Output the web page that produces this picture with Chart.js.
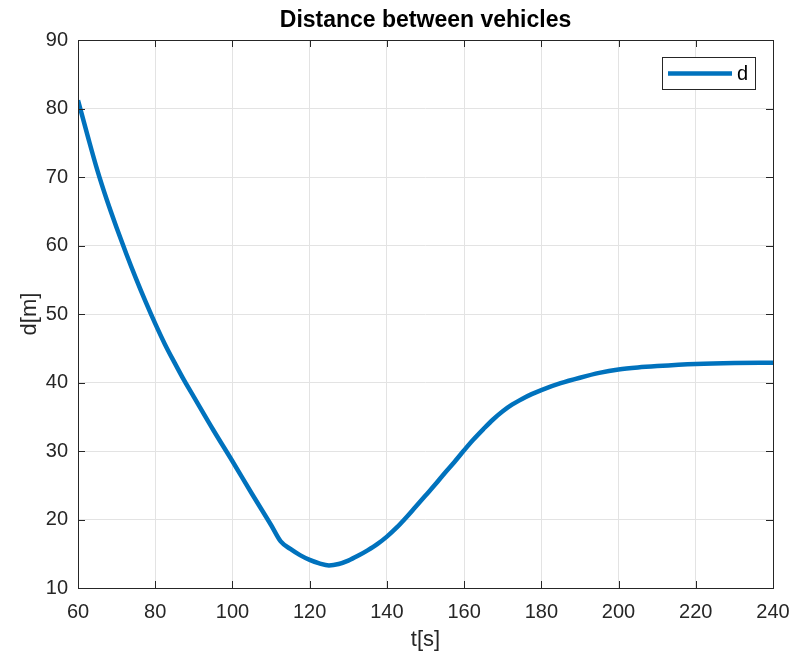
<!DOCTYPE html>
<html lang="en">
<head>
  <meta charset="UTF-8">
  <title>Distance between vehicles</title>
  <style>
    body {
      margin: 0;
      padding: 0;
      background-color: #fff;
    }
    #wrap {
      width: 791px;
      height: 659px;
    }
  </style>
  <script src="https://cdn.jsdelivr.net/npm/chart.js"></script>
</head>
<body>
  <div id="wrap">
    <canvas id="distanceChart" width="791" height="659"></canvas>
  </div>

  <script>
    // values
    const timeValues = [60, 62.5, 65, 67.5, 70, 72.5, 75, 77.5, 80, 82.5, 85, 87.5, 90, 95, 100, 105, 110, 112.5, 115, 117.5, 120, 122.5, 125, 127.5, 130, 132.5, 135, 137.5, 140, 142.5, 145, 147.5, 150, 152.5, 155, 157.5, 160, 162.3, 165, 167.5, 170, 172.5, 175, 177.5, 180, 185, 190, 195, 200, 205, 210, 220, 230, 240];
    const distanceValues = [81.2, 76.0, 71.0, 66.6, 62.6, 58.8, 55.2, 51.8, 48.6, 45.6, 42.9, 40.3, 37.9, 33.1, 28.5, 23.8, 19.2, 16.8, 15.7, 14.8, 14.1, 13.6, 13.3, 13.5, 14.0, 14.7, 15.5, 16.4, 17.5, 18.8, 20.3, 21.9, 23.5, 25.1, 26.8, 28.4, 30.1, 31.6, 33.2, 34.6, 35.8, 36.8, 37.6, 38.3, 38.9, 39.9, 40.7, 41.4, 41.9, 42.2, 42.4, 42.7, 42.85, 42.9];
    const xTicks = [60, 80, 100, 120, 140, 160, 180, 200, 220, 240];
    const yTicks = [10, 20, 30, 40, 50, 60, 70, 80, 90];
    const seriesLabel = 'd';
    const chartTitle = 'Distance between vehicles';
    const xLabel = 't[s]';
    const yLabel = 'd[m]';

    const lineColor = '#0072BD';
    const axisColor = '#262626';
    const fontFamily = '"Liberation Sans", Arial, Helvetica, sans-serif';

    const points = timeValues.map((t, i) => ({ x: t, y: distanceValues[i] }));

    // title, axis labels, box with inward ticks and the legend, MATLAB style
    const matlabDecor = {
      id: 'matlabDecor',
      afterDraw(chart) {
        const c = chart.ctx;
        const a = chart.chartArea;
        const xs = chart.scales.x;
        const ys = chart.scales.y;
        c.save();

        // box and inward ticks
        c.strokeStyle = axisColor;
        c.lineWidth = 1;
        c.strokeRect(Math.round(a.left) + 0.5, Math.round(a.top) + 0.5, Math.round(a.right - a.left), Math.round(a.bottom - a.top));
        c.beginPath();
        xTicks.forEach(v => {
          const px = Math.round(xs.getPixelForValue(v)) + 0.5;
          c.moveTo(px, a.bottom); c.lineTo(px, a.bottom - 7);
          c.moveTo(px, a.top); c.lineTo(px, a.top + 7);
        });
        yTicks.forEach(v => {
          const py = Math.round(ys.getPixelForValue(v)) + 0.5;
          c.moveTo(a.left, py); c.lineTo(a.left + 7, py);
          c.moveTo(a.right, py); c.lineTo(a.right - 7, py);
        });
        c.stroke();

        // title
        c.fillStyle = '#000';
        c.font = 'bold 23px ' + fontFamily;
        c.textAlign = 'center';
        c.textBaseline = 'middle';
        c.fillText(chartTitle, (a.left + a.right) / 2, 21);

        // axis labels
        c.fillStyle = axisColor;
        c.font = '22px ' + fontFamily;
        c.fillText(xLabel, (a.left + a.right) / 2, 640);
        c.save();
        c.translate(30, (a.top + a.bottom) / 2);
        c.rotate(-Math.PI / 2);
        c.fillText(yLabel, 0, 0);
        c.restore();

        // legend
        const bx = 662, by = 57, bw = 93, bh = 32;
        c.fillStyle = '#fff';
        c.fillRect(bx, by, bw, bh);
        c.strokeStyle = axisColor;
        c.strokeRect(bx + 0.5, by + 0.5, bw, bh);
        c.strokeStyle = lineColor;
        c.lineWidth = 4.5;
        c.beginPath();
        c.moveTo(668, by + bh / 2 + 0.5);
        c.lineTo(732, by + bh / 2 + 0.5);
        c.stroke();
        c.fillStyle = '#000';
        c.font = '20px ' + fontFamily;
        c.textAlign = 'left';
        c.fillText(chart.data.datasets[0].label, 737, by + bh / 2 + 1);

        c.restore();
      }
    };

    const ctx = document.getElementById('distanceChart').getContext('2d');
    const distanceChart = new Chart(ctx, {
      type: 'line',
      data: {
        datasets: [{
          label: seriesLabel,
          data: points,
          borderColor: lineColor,
          borderWidth: 4.5,
          pointRadius: 0,
          fill: false,
          cubicInterpolationMode: 'monotone'
        }]
      },
      options: {
        responsive: false,
        animation: false,
        layout: {
          padding: { top: 40, right: 18, bottom: 0, left: 0 }
        },
        scales: {
          x: {
            type: 'linear',
            min: 60,
            max: 240,
            afterBuildTicks: s => { s.ticks = xTicks.map(v => ({ value: v })); },
            afterFit: s => { s.height = 71; s.paddingLeft = 0; s.paddingRight = 0; },
            grid: { color: '#e3e3e3', drawTicks: false },
            border: { display: false },
            ticks: {
              color: axisColor,
              padding: 12,
              maxRotation: 0,
              font: { family: fontFamily, size: 20 }
            }
          },
          y: {
            type: 'linear',
            min: 10,
            max: 90,
            afterBuildTicks: s => { s.ticks = yTicks.map(v => ({ value: v })); },
            afterFit: s => { s.width = 78; s.paddingTop = 0; s.paddingBottom = 0; },
            grid: { color: '#e3e3e3', drawTicks: false },
            border: { display: false },
            ticks: {
              color: axisColor,
              padding: 10,
              font: { family: fontFamily, size: 20 }
            }
          }
        },
        plugins: {
          legend: { display: false },
          tooltip: { enabled: false }
        }
      },
      plugins: [matlabDecor]
    });
  </script>
</body>
</html>
